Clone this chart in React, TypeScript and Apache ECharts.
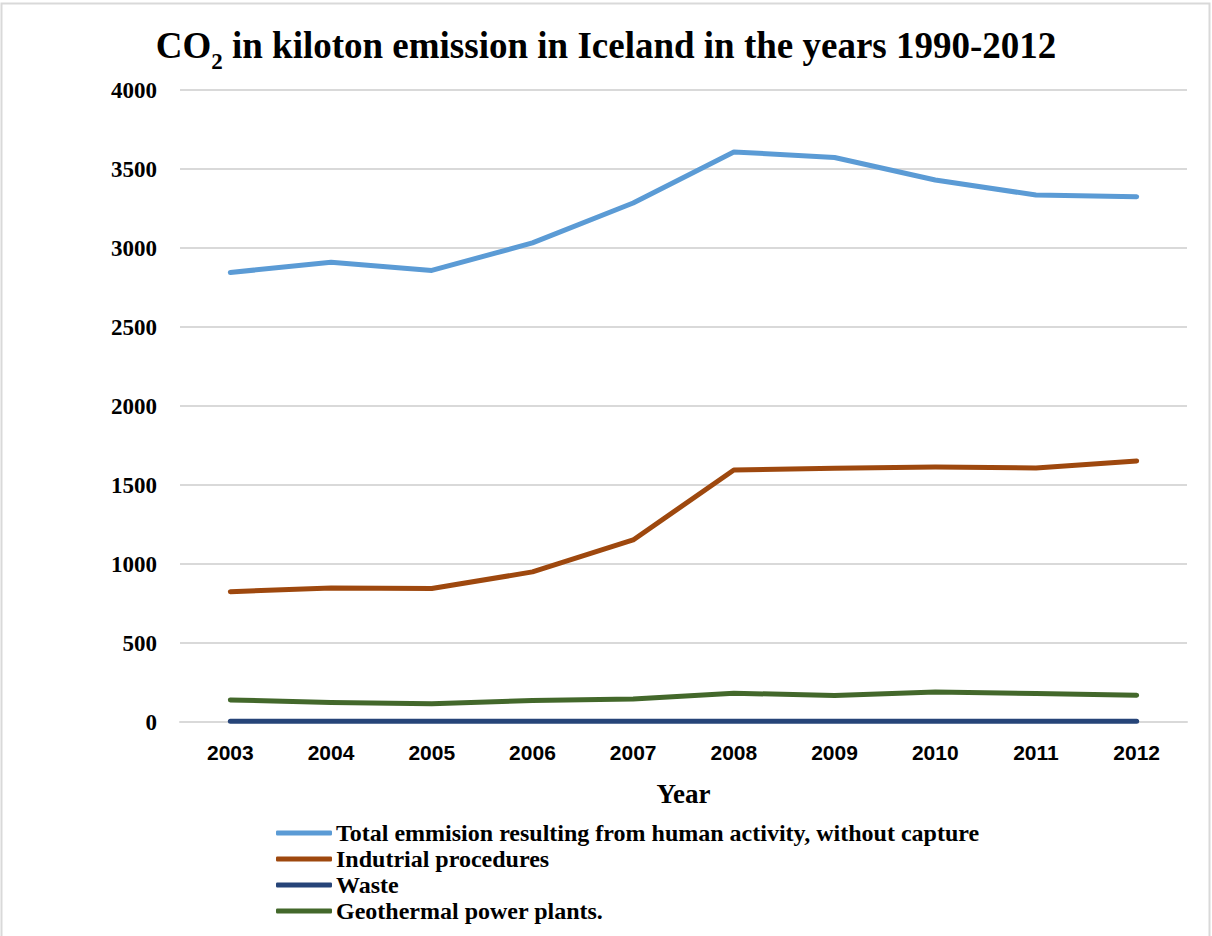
import React, { useEffect, useRef } from "react";
import * as echarts from "echarts";

const years = ["2003", "2004", "2005", "2006", "2007", "2008", "2009", "2010", "2011", "2012"];
const totalEmission = [2845, 2910, 2858, 3032, 3285, 3608, 3573, 3430, 3335, 3325];
const industrial = [825, 848, 845, 950, 1152, 1595, 1606, 1614, 1608, 1652];
const waste = [4, 4, 4, 4, 4, 4, 4, 4, 4, 4];
const geothermal = [140, 124, 116, 136, 145, 182, 168, 190, 180, 170];
const seriesNames = [
  "Total emmision resulting from human activity, without capture",
  "Indutrial procedures",
  "Waste",
  "Geothermal power plants.",
];
const colors = ["#5b9bd5", "#9e480e", "#264478", "#43682b"];

const serif = "'Liberation Serif', 'Times New Roman', serif";
const sans = "'Liberation Sans', Arial, sans-serif";

export default function App() {
  const ref = useRef<HTMLDivElement>(null);
  useEffect(() => {
    document.body.style.margin = "0";
    const chart = echarts.init(ref.current!, null, { renderer: "svg" });
    const data = [totalEmission, industrial, waste, geothermal];
    chart.setOption({
      animation: false,
      backgroundColor: "#ffffff",
      title: {
        left: "center",
        top: 22,
        text: "{a|CO}{b|2}{a| in kiloton emission in Iceland in the years 1990-2012}",
        textStyle: {
          rich: {
            a: { fontFamily: serif, fontWeight: "bold", fontSize: 37, lineHeight: 46, verticalAlign: "top", color: "#000" },
            b: { fontFamily: serif, fontWeight: "bold", fontSize: 23, lineHeight: 23, verticalAlign: "bottom", color: "#000" },
          },
        },
      },
      graphic: [
        {
          type: "rect",
          shape: { x: 1.5, y: 3.5, width: 1208, height: 960 },
          style: { fill: "none", stroke: "#d9d9d9", lineWidth: 2 },
          silent: true,
        },
      ],
      legend: {
        orient: "vertical",
        left: 271,
        top: 816,
        itemWidth: 56,
        itemHeight: 5,
        itemGap: 2,
        icon: "roundRect",
        data: seriesNames,
        textStyle: { fontFamily: serif, fontWeight: "bold", fontSize: 24, lineHeight: 24, color: "#000", padding: [0, 0, 0, -1] },
      },
      grid: { left: 180, right: 25, top: 90, bottom: 214, containLabel: false },
      xAxis: {
        type: "category",
        data: years,
        boundaryGap: true,
        name: "Year",
        nameLocation: "middle",
        nameGap: 58,
        nameTextStyle: { fontFamily: serif, fontWeight: "bold", fontSize: 27, color: "#000" },
        axisLine: { show: true, lineStyle: { color: "#d9d9d9", width: 2 } },
        axisTick: { show: false },
        axisLabel: { fontFamily: sans, fontWeight: "bold", fontSize: 21, color: "#000", margin: 20 },
      },
      yAxis: {
        type: "value",
        min: 0,
        max: 4000,
        interval: 500,
        axisLine: { show: false },
        axisTick: { show: false },
        axisLabel: {
          fontFamily: serif,
          fontWeight: "bold",
          fontSize: 23,
          color: "#000",
          margin: 23,
          formatter: (v: number) => String(v),
        },
        splitLine: { lineStyle: { color: "#d9d9d9", width: 2 } },
      },
      series: seriesNames.map((name, i) => ({
        name,
        type: "line",
        data: data[i],
        symbol: "none",
        color: colors[i],
        lineStyle: { width: 5, color: colors[i], cap: "round", join: "round" },
        z: i === 2 ? 3 : 2,
      })),
    });
    return () => chart.dispose();
  }, []);
  return <div ref={ref} style={{ width: 1212, height: 936 }} />;
}
